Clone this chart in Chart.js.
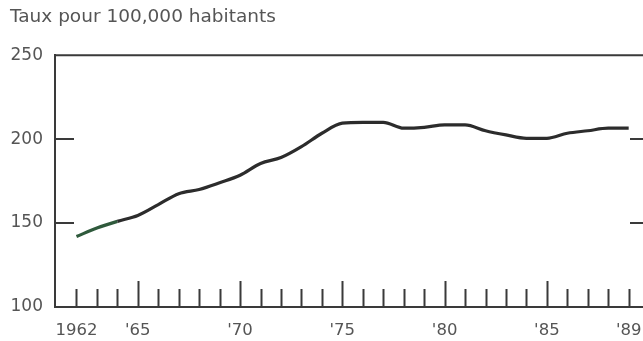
<!DOCTYPE html>
<html>
<head>
<meta charset="utf-8">
<script src="https://cdn.jsdelivr.net/npm/chart.js@4.4.0/dist/chart.umd.min.js"></script>
<style>
  html, body { margin: 0; padding: 0; background: #fff; overflow: hidden; }
  #wrap { width: 643px; height: 341px; }
</style>
</head>
<body>
<div id="wrap"><canvas id="graphique" width="643" height="341"></canvas></div>
<script>
// Données
const annees = [1962, 1963, 1964, 1965, 1966, 1967, 1968, 1969, 1970, 1971, 1972, 1973, 1974, 1975,
  1976, 1977, 1978, 1979, 1980, 1981, 1982, 1983, 1984, 1985, 1986, 1987, 1988, 1989];
const taux = [142, 147, 151, 154.5, 161, 167.5, 170, 174, 178.5, 185.5, 189, 195.5, 203.5, 209.5,
  210, 210, 206.5, 207, 208.5, 208.5, 205, 202.5, 200.5, 200.5, 203.5, 205, 206.5, 206.5];
const anneesEtiquettes = [1962, 1965, 1970, 1975, 1980, 1985, 1989];
const etiquettesX = ["1962", "'65", "'70", "'75", "'80", "'85", "'89"];
const valeursY = [100, 150, 200, 250];

const TEXTE = '#555';
const AXE = '#3a3a3a';
const POLICE = 'DejaVu Sans';

// Petites graduations tournées vers l'intérieur, plus le cadre du haut
const graduations = {
  id: 'graduations',
  afterDraw(chart) {
    const { ctx, chartArea, scales } = chart;
    const x = scales.x, y = scales.y;
    ctx.save();
    ctx.strokeStyle = AXE;
    ctx.lineWidth = 2;
    ctx.beginPath();
    ctx.moveTo(chartArea.left, chartArea.top);
    ctx.lineTo(chartArea.right, chartArea.top);
    annees.forEach(a => {
      const px = Math.round(x.getPixelForValue(a)) + 0.5;
      const h = a % 5 === 0 ? 26 : 18;
      ctx.moveTo(px, chartArea.bottom);
      ctx.lineTo(px, chartArea.bottom - h);
    });
    [150, 200].forEach(v => {
      const py = Math.round(y.getPixelForValue(v));
      ctx.moveTo(chartArea.left, py);
      ctx.lineTo(chartArea.left + 19, py);
      ctx.moveTo(chartArea.right - 13, py);
      ctx.lineTo(chartArea.right, py);
    });
    ctx.stroke();
    ctx.restore();
  }
};

new Chart(document.getElementById('graphique'), {
  type: 'line',
  data: {
    labels: annees,
    datasets: [{
      data: annees.map((a, i) => ({ x: a, y: taux[i] })),
      borderColor: '#2c2c2c',
      borderWidth: 3.2,
      pointRadius: 0,
      cubicInterpolationMode: 'monotone',
      segment: {
        borderColor: c => c.p0DataIndex < 2 ? '#2f5a3c' : '#2c2c2c'
      }
    }]
  },
  options: {
    responsive: false,
    animation: false,
    layout: { padding: { left: 10, right: 0, top: 0, bottom: 0 } },
    plugins: {
      legend: { display: false },
      tooltip: { enabled: false },
      title: {
        display: true,
        text: 'Taux pour 100,000 habitants',
        align: 'start',
        color: TEXTE,
        font: { family: POLICE, size: 18.5, weight: 'normal' },
        padding: { top: 6, bottom: 27 }
      }
    },
    scales: {
      x: {
        type: 'linear',
        min: 1960.95,
        max: 1989.7,
        afterBuildTicks: s => { s.ticks = anneesEtiquettes.map(v => ({ value: v })); },
        afterFit: s => { s.height = 34; s.paddingLeft = 0; s.paddingRight = 0; },
        grid: { display: false, drawTicks: false },
        border: { display: true, color: AXE, width: 2 },
        ticks: {
          autoSkip: false,
          maxRotation: 0,
          padding: 14,
          color: TEXTE,
          font: { family: POLICE, size: 16.5 },
          callback: v => etiquettesX[anneesEtiquettes.indexOf(v)]
        }
      },
      y: {
        min: 100,
        max: 250,
        afterBuildTicks: s => { s.ticks = valeursY.map(v => ({ value: v })); },
        afterFit: s => { s.width = 45; },
        grid: { display: false, drawTicks: false },
        border: { display: true, color: AXE, width: 2 },
        ticks: {
          padding: 12,
          color: TEXTE,
          font: { family: POLICE, size: 17 }
        }
      }
    }
  },
  plugins: [graduations]
});
</script>
</body>
</html>
